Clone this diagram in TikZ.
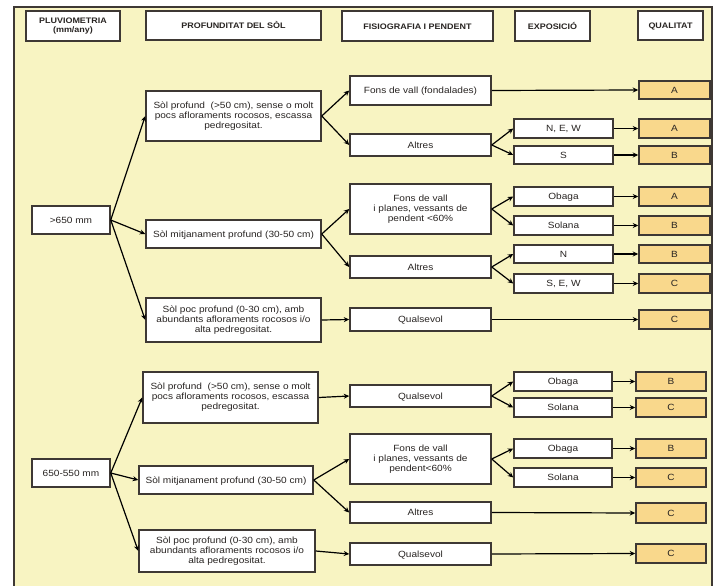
\documentclass[tikz,border=0pt]{standalone}
\usepackage{fontspec}
\setmainfont{Liberation Sans}[FakeStretch=1.12]
\usetikzlibrary{arrows.meta}
\definecolor{panel}{RGB}{248,244,194}
\definecolor{qfill}{RGB}{249,216,140}
\definecolor{edge}{RGB}{62,56,52}
\definecolor{ink}{RGB}{40,36,34}
\tikzset{
  bx/.style 2 args={draw=edge, line width=1.5pt, fill=white, inner sep=0pt,
    minimum width=#1pt, minimum height=#2pt, align=center, text=ink,
    font=\fontsize{9}{10}\selectfont},
  one/.style={text height=6.2pt, text depth=0pt},
  hd/.style 2 args={bx={#1}{#2}, font=\fontsize{8}{9.6}\selectfont\bfseries},
  qb/.style 2 args={bx={#1}{#2}, one, fill=qfill},
  arr/.style={-{Stealth[length=5.5pt,width=5pt]}, line width=1.2pt, draw=black},
}
\begin{document}
\begin{tikzpicture}[x=1pt,y=-1pt]
\useasboundingbox (0,0) rectangle (716,586);
\fill[white] (0,0) rectangle (716,586);
\fill[panel] (14,7) rectangle (712,586);
\draw[edge, line width=1.5pt] (14,586) -- (14,7) -- (712,7) -- (712,586);

% headers
\node[hd={94}{30}] (h1) at (73,26) {PLUVIOMETRIA\\(mm/any)};
\node[hd={175}{29}, one] (h2) at (233.5,25.5) {PROFUNDITAT DEL SÒL};
\node[hd={151}{30}, one] (h3) at (417.5,26) {FISIOGRAFIA I PENDENT};
\node[hd={75}{30}, one] (h4) at (552.5,26) {EXPOSICIÓ};
\node[hd={65}{29}, one] (h5) at (670.5,25.5) {QUALITAT};

% pluviometria
\node[bx={78}{28}, one] (p1) at (71,220) {>650 mm};
\node[bx={78}{28}, one] (p2) at (71,473) {650-550 mm};

% profunditat
\node[bx={175}{50}] (s1) at (233.5,116) {Sòl profund \ (>50 cm), sense o molt\\pocs afloraments rocosos, escassa\\pedregositat.};
\node[bx={175}{28}, one] (s2) at (233.5,234) {Sòl mitjanament profund (30-50 cm)};
\node[bx={175}{44}] (s3) at (233.5,320) {Sòl poc profund (0-30 cm), amb\\abundants afloraments rocosos i/o\\alta pedregositat.};
\node[bx={175}{51}] (s4) at (230.5,397.5) {Sòl profund \ (>50 cm), sense o molt\\pocs afloraments rocosos, escassa\\pedregositat.};
\node[bx={174}{28}, one] (s5) at (226,480) {Sòl mitjanament profund (30-50 cm)};
\node[bx={176}{42}] (s6) at (227,551) {Sòl poc profund (0-30 cm), amb\\abundants afloraments rocosos i/o\\alta pedregositat.};

% fisiografia
\node[bx={141}{29}, one] (f1) at (420.5,90.5) {Fons de vall (fondalades)};
\node[bx={141}{22}, one] (f2) at (420.5,145) {Altres};
\node[bx={141}{50}] (f3) at (420.5,209) {Fons de vall\\i planes, vessants de\\pendent <60\%};
\node[bx={141}{22}, one] (f4) at (420.5,267) {Altres};
\node[bx={141}{23}, one] (f5) at (420.5,319.5) {Qualsevol};
\node[bx={141}{22}, one] (f6) at (420.5,396) {Qualsevol};
\node[bx={141}{50}] (f7) at (420.5,459) {Fons de vall\\i planes, vessants de\\pendent<60\%};
\node[bx={141}{21}, one] (f8) at (420.5,512.5) {Altres};
\node[bx={141}{22}, one] (f9) at (420.5,554) {Qualsevol};

% exposicio
\node[bx={99}{19}, one] (e1) at (563.5,128.5) {N, E, W};
\node[bx={99}{18}, one] (e2) at (563.5,155) {S};
\node[bx={99}{19}, one] (e3) at (563.5,196.5) {Obaga};
\node[bx={99}{19}, one] (e4) at (563.5,225.5) {Solana};
\node[bx={99}{18}, one] (e5) at (563.5,254) {N};
\node[bx={99}{19}, one] (e6) at (563.5,283.5) {S, E, W};
\node[bx={98}{19}, one] (e7) at (563,381.5) {Obaga};
\node[bx={98}{19}, one] (e8) at (563,407.5) {Solana};
\node[bx={98}{19}, one] (e9) at (563,448.5) {Obaga};
\node[bx={98}{19}, one] (e10) at (563,477.5) {Solana};

% qualitat
\node[qb={71}{18}] (q1) at (674.5,90) {A};
\node[qb={71}{19}] (q2) at (674.5,128.5) {A};
\node[qb={71}{18}] (q3) at (674.5,155) {B};
\node[qb={71}{19}] (q4) at (674.5,196.5) {A};
\node[qb={71}{19}] (q5) at (674.5,225.5) {B};
\node[qb={71}{18}] (q6) at (674.5,254) {B};
\node[qb={71}{19}] (q7) at (674.5,283.5) {C};
\node[qb={71}{19}] (q8) at (674.5,319.5) {C};
\node[qb={70}{19}] (q9) at (671,381.5) {B};
\node[qb={70}{19}] (q10) at (671,407.5) {C};
\node[qb={70}{19}] (q11) at (671,448.5) {B};
\node[qb={70}{19}] (q12) at (671,477.5) {C};
\node[qb={70}{20}] (q13) at (671,513) {C};
\node[qb={70}{19}] (q14) at (671,553.5) {C};

% connectors
\foreach \a/\b in {p1/s1,p1/s2,p1/s3,p2/s4,p2/s5,p2/s6,
  s1/f1,s1/f2,s2/f3,s2/f4,s3/f5,s4/f6,s5/f7,s5/f8,s6/f9,
  f2/e1,f2/e2,f3/e3,f3/e4,f4/e5,f4/e6,f6/e7,f6/e8,f7/e9,f7/e10,
  f1/q1,e1/q2,e2/q3,e3/q4,e4/q5,e5/q6,e6/q7,f5/q8,
  e7/q9,e8/q10,e9/q11,e10/q12,f8/q13,f9/q14}
  \draw[arr] (\a.east) -- (\b.west);
\end{tikzpicture}
\end{document}
